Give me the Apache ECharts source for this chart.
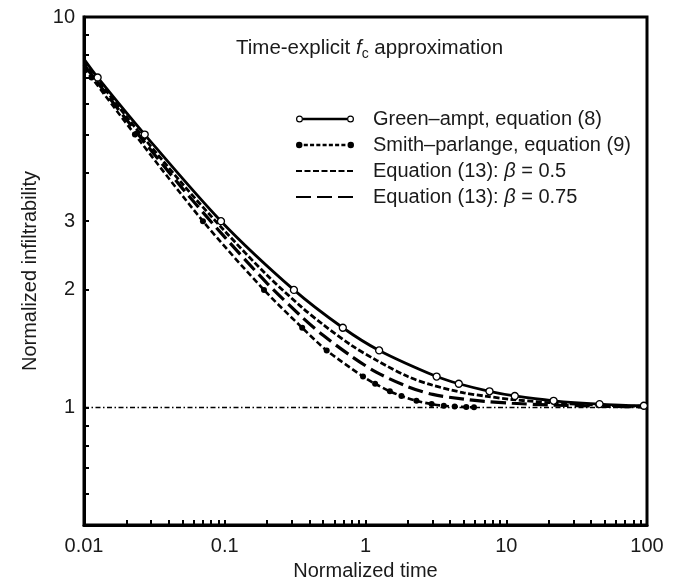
<!DOCTYPE html>
<html>
<head>
<meta charset="utf-8">
<script src="https://cdn.jsdelivr.net/npm/echarts@6/dist/echarts.min.js"></script>
<style>
  html, body { margin: 0; padding: 0; background: #fff; }
  #chart { width: 680px; height: 586px; }
</style>
</head>
<body>
<div id="chart"></div>
<script>
// values (normalized time vs normalized infiltrability)
const gaTime = [0.01, 0.0125, 0.027, 0.094, 0.31, 0.69, 1.25, 3.2, 4.6, 7.6, 11.5, 21.7, 46, 95, 100];
const gaValue = [7.8, 7.0, 5.0, 3.0, 2.0, 1.6, 1.4, 1.2, 1.15, 1.1, 1.07, 1.04, 1.02, 1.01, 1.01];

const spTime = [0.01, 0.0113, 0.023, 0.07, 0.19, 0.355, 0.53, 0.96, 1.17, 1.49, 1.8, 2.3, 2.95, 3.6, 4.3, 5.2, 5.9];
const spValue = [7.42, 7.0, 5.0, 3.0, 2.0, 1.6, 1.4, 1.2, 1.15, 1.1, 1.07, 1.04, 1.02, 1.01, 1.005, 1.002, 1.001];

const eqTime = [0.01, 0.02, 0.05, 0.1, 0.2, 0.35, 0.5, 0.8, 1.2, 2, 3, 5, 7, 11, 20, 50, 100];
const eq05Value = [7.67, 5.56, 3.74, 2.83, 2.18, 1.81, 1.63, 1.44, 1.32, 1.2, 1.14, 1.09, 1.07, 1.048, 1.029, 1.012, 1.006];
const eq075Value = [7.55, 5.46, 3.64, 2.73, 2.08, 1.71, 1.53, 1.35, 1.23, 1.13, 1.08, 1.05, 1.036, 1.025, 1.015, 1.007, 1.003];

const refTime = [0.01, 100];
const refValue = [1, 1];

const seriesNames = ['Green\u2013ampt, equation (8)', 'Smith\u2013parlange, equation (9)', 'Equation (13): \u03b2 = 0.5', 'Equation (13): \u03b2 = 0.75'];

const xTickValues = [0.01, 0.02, 0.03, 0.04, 0.05, 0.06, 0.07, 0.08, 0.09, 0.1, 0.2, 0.3, 0.4, 0.5, 0.6, 0.7, 0.8, 0.9, 1, 2, 3, 4, 5, 6, 7, 8, 9, 10, 20, 30, 40, 50, 60, 70, 80, 90, 100];
const xLabelValues = [0.01, 0.1, 1, 10, 100];
const yTickValues = [0.6, 0.7, 0.8, 0.9, 1, 2, 3, 4, 5, 6, 7, 8, 9, 10];
const yLabelValues = [1, 2, 3, 10];

function pairs(xs, ys) {
  return xs.map((x, i) => [x, ys[i]]);
}

// legend icons: line with a marker at each end (58 x 7 box)
function ring(cx, cy, r, ri) {
  return 'M' + (cx - r) + ',' + cy + ' A' + r + ',' + r + ' 0 1,0 ' + (cx + r) + ',' + cy +
    ' A' + r + ',' + r + ' 0 1,0 ' + (cx - r) + ',' + cy + ' Z' +
    (ri ? ' M' + (cx - ri) + ',' + cy + ' A' + ri + ',' + ri + ' 0 1,1 ' + (cx + ri) + ',' + cy +
      ' A' + ri + ',' + ri + ' 0 1,1 ' + (cx - ri) + ',' + cy + ' Z' : '');
}
function bar(x0, x1) {
  return ' M' + x0 + ',2.2 L' + x1 + ',2.2 L' + x1 + ',4.8 L' + x0 + ',4.8 Z';
}
const gaIcon = 'path://' + ring(3.5, 3.5, 3.5, 2.3) + bar(7, 51) + ' ' + ring(54.5, 3.5, 3.5, 2.3);
let spPath = ring(3.5, 3.5, 3.2, 0);
for (let k = 0; k < 7; k++) {
  spPath += bar(8 + k * 6.2, 12 + k * 6.2);
}
spPath += ' ' + ring(54.5, 3.5, 3.2, 0);
const spIcon = 'path://' + spPath;

const font = 'Liberation Sans';
const ink = '#1a1a1a';
const fs = 20;

let myChart = echarts.init(document.getElementById('chart'));

let option = {
  animation: false,
  backgroundColor: '#fff',
  title: {
    text: 'Time-explicit {i|f}{s|c} approximation',
    left: 231,
    top: 31,
    textStyle: {
      fontFamily: font,
      fontSize: 20.5,
      fontWeight: 'normal',
      color: ink,
      rich: {
        i: { fontFamily: font, fontSize: 20.5, fontStyle: 'italic', color: ink },
        s: { fontFamily: font, fontSize: 14, color: ink, padding: [11, 0, 0, 0] }
      }
    }
  },
  legend: {
    orient: 'vertical',
    left: 290,
    top: 104,
    itemWidth: 58,
    itemHeight: 7,
    itemGap: 6,
    data: [
      { name: seriesNames[0], icon: gaIcon, itemStyle: { color: '#000', borderWidth: 0 } },
      { name: seriesNames[1], icon: spIcon, itemStyle: { color: '#000', borderWidth: 0 } },
      { name: seriesNames[2], itemStyle: { opacity: 0 } },
      { name: seriesNames[3], itemStyle: { opacity: 0 } }
    ],
    formatter: function (name) {
      return name.replace('\u03b2', '{i|\u03b2}');
    },
    textStyle: {
      fontFamily: font,
      fontSize: fs,
      color: ink,
      padding: [0, 0, 0, 14],
      rich: {
        i: { fontFamily: font, fontSize: fs, fontStyle: 'italic', color: ink }
      }
    }
  },
  grid: {
    left: 84,
    right: 33,
    top: 17,
    bottom: 56,
    show: true,
    borderColor: '#000',
    borderWidth: 3,
    backgroundColor: 'transparent'
  },
  xAxis: {
    type: 'log',
    logBase: 10,
    min: 0.01,
    max: 100,
    name: 'Normalized time',
    nameLocation: 'middle',
    nameGap: 36,
    nameTextStyle: { fontFamily: font, fontSize: fs, color: ink },
    axisLine: { show: true, lineStyle: { color: '#000', width: 3 } },
    axisTick: {
      show: true,
      inside: true,
      length: 5,
      customValues: xTickValues,
      lineStyle: { color: '#000', width: 2 }
    },
    minorTick: { show: false },
    splitLine: { show: false },
    axisLabel: {
      customValues: xLabelValues,
      margin: 11,
      fontFamily: font,
      fontSize: fs,
      color: ink,
      formatter: function (value) {
        return String(+value.toPrecision(3));
      }
    }
  },
  yAxis: {
    type: 'log',
    logBase: 10,
    min: 0.5,
    max: 10,
    name: 'Normalized infiltrability',
    nameLocation: 'middle',
    nameGap: 44,
    nameTextStyle: { fontFamily: font, fontSize: fs, color: ink },
    axisLine: { show: true, lineStyle: { color: '#000', width: 3 } },
    axisTick: {
      show: true,
      inside: true,
      length: 5,
      customValues: yTickValues,
      lineStyle: { color: '#000', width: 2 }
    },
    minorTick: { show: false },
    splitLine: { show: false },
    axisLabel: {
      customValues: yLabelValues,
      margin: 9,
      fontFamily: font,
      fontSize: fs,
      color: ink,
      formatter: function (value) {
        return String(+value.toPrecision(3));
      }
    }
  },
  series: [
    {
      name: 'reference',
      type: 'line',
      data: pairs(refTime, refValue),
      symbol: 'none',
      lineStyle: { color: '#000', width: 1.5, type: [5, 2.5, 1.5, 2.5] },
      z: 1
    },
    {
      name: seriesNames[0],
      type: 'line',
      smooth: 0.3,
      data: pairs(gaTime, gaValue),
      symbol: function (value, params) {
        return (params.dataIndex === 0 || params.dataIndex === gaTime.length - 1) ? 'none' : 'circle';
      },
      symbolSize: 7,
      itemStyle: { color: '#fff', borderColor: '#000', borderWidth: 1.3 },
      lineStyle: { color: '#000', width: 2.8, type: 'solid' },
      z: 5
    },
    {
      name: seriesNames[1],
      type: 'line',
      smooth: 0.3,
      data: pairs(spTime, spValue),
      symbol: function (value, params) {
        return params.dataIndex === 0 ? 'none' : 'circle';
      },
      symbolSize: 6,
      itemStyle: { color: '#000', borderColor: '#000', borderWidth: 0 },
      lineStyle: { color: '#000', width: 2.6, type: [6, 3] },
      z: 4
    },
    {
      name: seriesNames[2],
      type: 'line',
      smooth: 0.3,
      data: pairs(eqTime, eq05Value),
      symbol: 'none',
      itemStyle: { color: '#000' },
      lineStyle: { color: '#000', width: 2.8, type: [6, 2.5] },
      z: 3
    },
    {
      name: seriesNames[3],
      type: 'line',
      smooth: 0.3,
      data: pairs(eqTime, eq075Value),
      symbol: 'none',
      itemStyle: { color: '#000' },
      lineStyle: { color: '#000', width: 3.2, type: [15, 6] },
      z: 3
    }
  ]
};

myChart.setOption(option);
</script>
</body>
</html>
